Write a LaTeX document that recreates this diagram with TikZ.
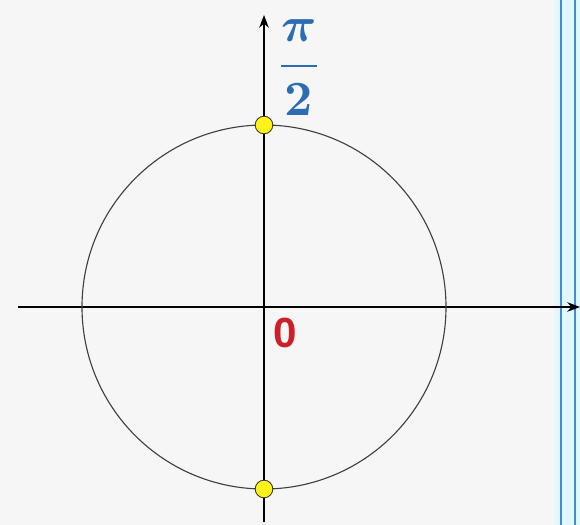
\documentclass[tikz,border=0pt]{standalone}
\usepackage{amsmath}
\usepackage{fontspec}
\newfontfamily\zerofont{Liberation Sans}
\usepackage{tikz}
\usetikzlibrary{arrows.meta}
\definecolor{bgcol}{HTML}{F6F6F6}
\definecolor{fracblue}{HTML}{2B6CB3}
\definecolor{zerored}{HTML}{CC1F2A}
\definecolor{railblue}{HTML}{3D8FD0}
\definecolor{railfill}{HTML}{E2F7FC}
\tikzset{
  axis/.style={-{Stealth[length=3.2mm, width=2.4mm]}, line width=0.9pt, black},
  unit/.style={line width=0.8pt, black!75},
  dot/.style={circle, draw=black!80, fill=yellow!90!white, line width=0.6pt,
              inner sep=0pt, minimum size=4.4mm},
  rail/.style={line width=1.8pt, railblue}
}

\begin{document}
\begin{tikzpicture}[x=0.025cm, y=-0.025cm]
    \fill[bgcol] (0,0) rectangle (580,525);
    \useasboundingbox (0,0) rectangle (580,525);
    % right frame
    \fill[railfill] (555,0) rectangle (580,525);
    \draw[rail] (561,0) -- (561,525);
    \draw[rail] (575,0) -- (575,525);
    % axes
    \coordinate (O) at (264,307);
    \coordinate (xs) at (18,307);
    \coordinate (xe) at (580,307);
    \coordinate (ys) at (264,522);
    \coordinate (ye) at (264,15);
    \draw[axis] (xs) -- (xe);
    \draw[axis] (ys) -- (ye);
    \draw[unit] (O) circle[radius=182];
    \node[dot] (top) at (264,125) {};
    \node[dot] (bot) at (264,489) {};
    % labels
    \node[text=fracblue, font=\boldmath, scale=3.5, inner sep=0pt] (half) at (299,68)
      {$\dfrac{\pi}{2}$};
    \node[text=zerored, font=\zerofont\bfseries\fontsize{30}{36}\selectfont] (zero) at (285,333) {0};
\end{tikzpicture}
\end{document}
